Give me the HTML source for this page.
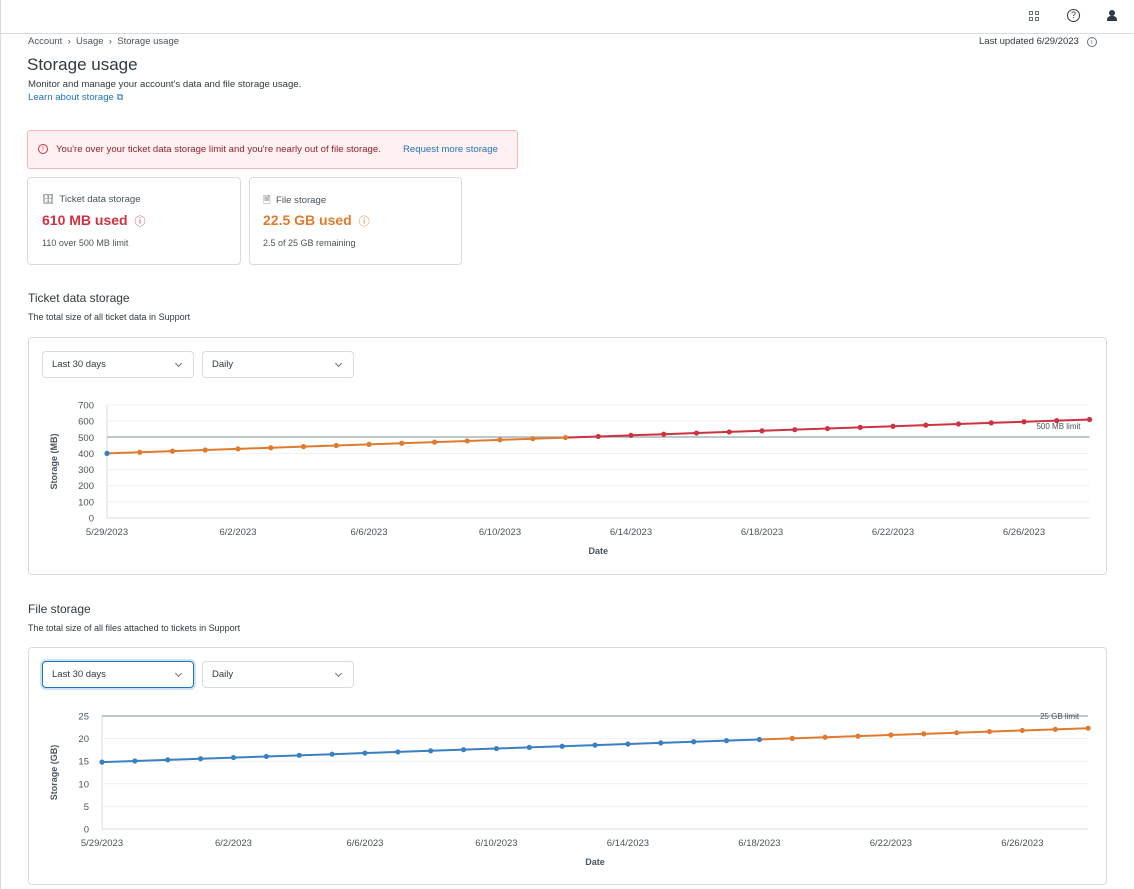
<!DOCTYPE html>
<html><head><meta charset="utf-8">
<style>
*{box-sizing:border-box;margin:0;padding:0}
body{width:1134px;height:889px;background:#fff;font-family:"Liberation Sans",sans-serif;color:#2f3941;position:relative;overflow:hidden}
.a{position:absolute}
.box{position:absolute;border:1px solid #d8dcde;border-radius:4px;background:#fff}
.sel{position:absolute;border:1px solid #d8dcde;border-radius:4px;font-size:9.5px;padding:0 9px;line-height:26px;height:27px}
.sel:after{content:"";position:absolute;right:12px;top:9px;width:4px;height:4px;border-right:1px solid #68737d;border-bottom:1px solid #68737d;transform:rotate(45deg)}
</style></head><body>
<div class="a" style="left:0;top:0;width:1px;height:889px;background:#d8dcde"></div>
<div class="a" style="left:0;top:33px;width:1134px;height:1px;background:#d8dcde"></div>
<div class="a" style="left:1029px;top:11px;width:10px;height:10px;font-size:9px;color:#68737d">
<div class="a" style="left:0;top:0;width:4px;height:4px;border:1px solid #68737d"></div><div class="a" style="left:6px;top:0;width:4px;height:4px;border:1px solid #68737d"></div><div class="a" style="left:0;top:6px;width:4px;height:4px;border:1px solid #68737d"></div><div class="a" style="left:6px;top:6px;width:4px;height:4px;border:1px solid #68737d"></div></div>
<div class="a" style="left:1067px;top:9px;width:13px;height:13px;border:1px solid #2f3941;border-radius:50%;font-size:9px;text-align:center;line-height:11px">?</div>
<div class="a" style="left:1109px;top:10px;width:6px;height:6px;background:#2f3941;border-radius:50%"></div>
<div class="a" style="left:1107px;top:16px;width:10px;height:5px;background:#2f3941;border-radius:4px 4px 0 0"></div>

<div class="a" style="left:28px;top:36px;font-size:9.5px;color:#49545c">Account &nbsp;›&nbsp; Usage &nbsp;›&nbsp; Storage usage</div>
<div class="a" style="left:979px;top:36px;font-size:9.5px;color:#2f3941">Last updated 6/29/2023 &nbsp;&nbsp;<span style="display:inline-block;width:10px;height:10px;border:1px solid #68737d;border-radius:50%;font-size:7px;text-align:center;line-height:9px;color:#68737d">i</span></div>
<div class="a" style="left:27px;top:55px;font-size:17px;color:#2f3941">Storage usage</div>
<div class="a" style="left:28px;top:79px;font-size:9.6px">Monitor and manage your account's data and file storage usage.</div>
<div class="a" style="left:28px;top:92px;font-size:9.6px;color:#1f73b7">Learn about storage ⧉</div>

<div class="a" style="left:27px;top:130px;width:491px;height:39px;background:#fff0f1;border:1px solid #f5b5ba;border-radius:3px"></div>
<div class="a" style="left:38px;top:144px;width:10px;height:10px;border:1px solid #cc3340;border-radius:50%;font-size:7px;color:#cc3340;text-align:center;line-height:9px">!</div>
<div class="a" style="left:56px;top:144px;font-size:9.6px;color:#8c232c">You're over your ticket data storage limit and you're nearly out of file storage.</div>
<div class="a" style="left:403px;top:144px;font-size:9.6px;color:#1f73b7">Request more storage</div>

<div class="box" style="left:27px;top:177px;width:214px;height:88px"></div>
<div class="a" style="left:42px;top:194px;font-size:9.6px;color:#49545c">🗄&nbsp; Ticket data storage</div>
<div class="a" style="left:42px;top:212px;font-size:14px;font-weight:bold;color:#cc3340">610 MB used <span style="font-weight:normal;font-size:11px">&nbsp;ⓘ</span></div>
<div class="a" style="left:42px;top:238px;font-size:9px;color:#49545c">110 over 500 MB limit</div>
<div class="box" style="left:249px;top:177px;width:213px;height:88px"></div>
<div class="a" style="left:263px;top:194px;font-size:9.6px;color:#49545c">🗎&nbsp; File storage</div>
<div class="a" style="left:263px;top:212px;font-size:14px;font-weight:bold;color:#e07b2e">22.5 GB used <span style="font-weight:normal;font-size:11px">&nbsp;ⓘ</span></div>
<div class="a" style="left:263px;top:238px;font-size:9px;color:#49545c">2.5 of 25 GB remaining</div>

<div class="a" style="left:28px;top:291px;font-size:12px">Ticket data storage</div>
<div class="a" style="left:28px;top:312px;font-size:9px">The total size of all ticket data in Support</div>
<div class="box" style="left:28px;top:337px;width:1079px;height:238px"></div>
<div class="sel" style="left:42px;top:351px;width:152px">Last 30 days</div>
<div class="sel" style="left:202px;top:351px;width:152px">Daily</div>

<div class="a" style="left:28px;top:602px;font-size:12px">File storage</div>
<div class="a" style="left:28px;top:623px;font-size:9px">The total size of all files attached to tickets in Support</div>
<div class="box" style="left:28px;top:647px;width:1079px;height:238px"></div>
<div class="sel" style="left:42px;top:661px;width:152px;border:1.5px solid #1f73b7;box-shadow:0 0 0 2px #cfe2f5">Last 30 days</div>
<div class="sel" style="left:202px;top:661px;width:152px">Daily</div>

<svg id="s" class="a" style="left:0;top:0" width="1134" height="889" font-family="Liberation Sans, sans-serif"></svg>
<script>
var s=document.getElementById('s'),h='';
function t(x,y,str,o){h+='<text x="'+x+'" y="'+y+'" '+(o||'')+'>'+str+'</text>';}
function chart(x0,dx,ytop,ybot,ticks,vals,colorOf,lim,limY,limLabel,ylabel){
 var n=ticks.length-1;
 for(var k=0;k<=n;k++){var y=ybot-(ybot-ytop)*k/n;
  h+='<line x1="'+x0+'" x2="'+(x0+30*dx)+'" y1="'+y+'" y2="'+y+'" stroke="#f0f1f2"/>';
  t(x0-13,y+3.5,ticks[k],'font-size="9.5" fill="#49545c" text-anchor="end"');}
 h+='<line x1="'+x0+'" x2="'+x0+'" y1="'+ytop+'" y2="'+ybot+'" stroke="#d8dcde"/>';
 h+='<line x1="'+x0+'" x2="'+(x0+30*dx)+'" y1="'+ybot+'" y2="'+ybot+'" stroke="#d8dcde"/>';
 h+='<line x1="'+x0+'" x2="'+(x0+30*dx)+'" y1="'+limY+'" y2="'+limY+'" stroke="#9aa9a9" stroke-width="1.3"/>';
 t(x0+30*dx-9,limY-8+ (limLabel[0]=='2'?11:0),limLabel,'font-size="8" fill="#49545c" text-anchor="end"');
 var d=['5/29/2023','6/2/2023','6/6/2023','6/10/2023','6/14/2023','6/18/2023','6/22/2023','6/26/2023'];
 for(var i=0;i<8;i++)t(x0+i*4*dx,ybot+17,d[i],'font-size="9.5" fill="#49545c" text-anchor="middle"');
 t(x0+15*dx,ybot+36,'Date','font-size="9" font-weight="bold" fill="#49545c" text-anchor="middle"');
 var cy=(ytop+ybot)/2;
 t(57,cy,ylabel,'font-size="9" font-weight="bold" fill="#49545c" text-anchor="middle" transform="rotate(-90 57 '+cy+')"');
 for(var i=0;i<30;i++){var c=colorOf(i+1);
  h+='<line x1="'+(x0+i*dx)+'" y1="'+vals[i]+'" x2="'+(x0+(i+1)*dx)+'" y2="'+vals[i+1]+'" stroke="'+c+'" stroke-width="2"/>';}
 for(var i=0;i<=30;i++)h+='<circle cx="'+(x0+i*dx)+'" cy="'+vals[i]+'" r="2.6" fill="'+colorOf(i)+'"/>';
}
var v1=[],v2=[];for(var i=0;i<=30;i++){v1.push(453.4-1.13*i);v2.push(762.1-1.13*i);}
chart(107,32.75,405,518,['0','100','200','300','400','500','600','700'],v1,function(i){return i==0?'#3a7fc1':(i<=14?'#e07b2e':'#cc3340')},0,437,'500 MB limit','Storage (MB)');
chart(102,32.87,716,829,['0','5','10','15','20','25'],v2,function(i){return i<=20?'#3a7fc1':'#e07b2e'},0,716,'25 GB limit','Storage (GB)');
s.innerHTML=h;
</script>
</body></html>
